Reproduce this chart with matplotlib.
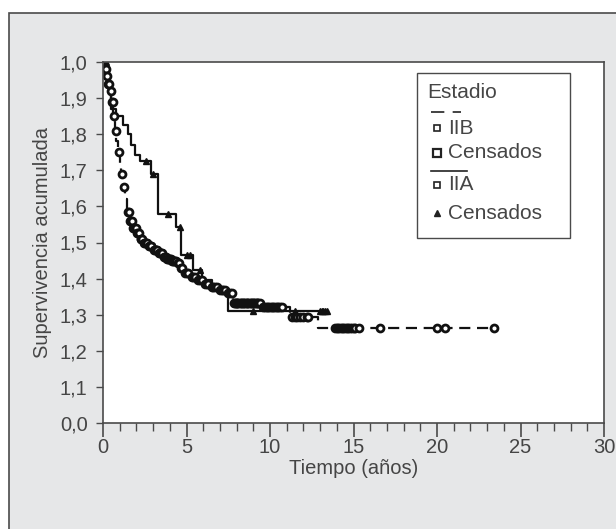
import numpy as np
import matplotlib
matplotlib.use("Agg")
import matplotlib.pyplot as plt
from matplotlib.patches import Rectangle
from matplotlib.lines import Line2D

# IIB (dashed), step times / survival after each event
iib_t = [0, 0.1, 0.2, 0.3, 0.4, 0.5, 0.6, 0.7, 0.8, 0.9, 1.0, 1.1, 1.2, 1.3, 1.44, 1.6,
         1.8, 2.0, 2.2, 2.4, 2.7, 3.0, 3.3, 3.6, 3.8, 4.1, 4.4, 4.6, 4.8, 5.2, 5.6, 6.0,
         6.4, 6.9, 7.4, 7.8, 9.5, 11.2, 12.9, 23.4]
iib_s = [1.0, 0.98, 0.96, 0.94, 0.92, 0.89, 0.85, 0.81, 0.78, 0.75, 0.72, 0.69, 0.655, 0.62,
         0.585, 0.56, 0.54, 0.525, 0.51, 0.50, 0.49, 0.48, 0.47, 0.46, 0.455, 0.45, 0.443,
         0.43, 0.415, 0.405, 0.396, 0.385, 0.377, 0.368, 0.36, 0.332, 0.32, 0.294, 0.263, 0.263]
iib_cens = [0.12, 0.18, 0.25, 0.32, 0.38, 0.45, 0.52, 0.58, 0.65, 0.75, 0.95, 1.15, 1.25,
            1.5, 1.55, 1.62, 1.68, 1.75, 1.82, 1.88, 1.95, 2.05, 2.1, 2.15, 2.25, 2.3, 2.35,
            2.45, 2.5, 2.55, 2.6, 2.65, 2.75, 2.8, 2.85, 2.9, 3.05, 3.1, 3.15, 3.2, 3.25,
            3.35, 3.4, 3.45, 3.5, 3.55, 3.65, 3.7, 3.75, 3.85, 3.9, 3.95, 4.0, 4.05, 4.15,
            4.2, 4.25, 4.3, 4.35, 4.5, 4.55, 4.7, 4.75, 4.9, 5.0, 5.1, 5.3, 5.4, 5.5, 5.7,
            5.8, 5.9, 6.1, 6.2, 6.3, 6.5, 6.6, 6.7, 6.8, 7.0, 7.1, 7.2, 7.3, 7.5, 7.6,
            7.7, 7.85, 7.9, 7.95, 8.0, 8.05, 8.1, 8.2, 8.25, 8.3, 8.4, 8.45, 8.5, 8.6, 8.65,
            8.7, 8.8, 8.85, 8.9, 9.0, 9.05, 9.1, 9.2, 9.25, 9.3, 9.4, 9.6, 9.7, 9.8, 9.9,
            10.0, 10.1, 10.2, 10.3, 10.4, 10.5, 10.6, 10.7, 11.3, 11.5, 11.6, 11.8, 12.0,
            12.2, 12.3, 13.9, 14.0, 14.1, 14.2, 14.3, 14.4, 14.5, 14.6, 14.7, 14.8, 14.9,
            15.0, 15.1, 15.3, 16.6, 20.0, 20.5, 23.4]

# IIA (solid)
iia_t = [0, 0.2, 0.35, 0.5, 0.8, 1.2, 1.5, 1.7, 1.9, 2.2, 2.9, 3.3, 4.4, 4.7, 5.4, 5.9,
         6.5, 7.0, 7.5, 13.5]
iia_s = [1.0, 0.96, 0.92, 0.87, 0.85, 0.825, 0.80, 0.77, 0.742, 0.726, 0.69, 0.58, 0.543,
         0.465, 0.424, 0.396, 0.38, 0.365, 0.31, 0.31]
iia_cens = [0.15, 2.6, 3.0, 3.9, 4.6, 5.05, 5.2, 5.8, 9.0, 11.5, 13.0, 13.1, 13.2, 13.3, 13.4]

ytick_labels = ["0,0", "1,1", "1,2", "1,3", "1,4", "1,5", "1,6", "1,7", "1,8", "1,9", "1,0"]
xtick_labels = ["0", "5", "10", "15", "20", "25", "30"]

plt.rcParams['font.family'] = ['Liberation Sans', 'DejaVu Sans']
txt = '#454545'
W, H = 616, 529
fig = plt.figure(figsize=(W / 100, H / 100), dpi=100)
bg = Rectangle((9 / W, -0.1), 1.2, 1 - 13 / H + 0.1, transform=fig.transFigure,
               facecolor='#e6e7e8', edgecolor='#4a4a4a', linewidth=1.2, zorder=-5)
fig.patches.append(bg)

ax = fig.add_axes([103 / W, 1 - 423 / H, 501 / W, 361 / H])
ax.set_zorder(1)
ax.set_facecolor('white')


def step_at(t, ts, ss):
    i = np.searchsorted(ts, t, side='right') - 1
    return ss[i]


ax.step(iib_t, iib_s, where='post', color='#111', lw=1.6, ls=(0, (5, 3)))
ax.step(iia_t, iia_s, where='post', color='#111', lw=1.6)
ax.plot(iib_cens, [step_at(t, iib_t, iib_s) for t in iib_cens], ls='none', marker='o',
        ms=5, mfc='white', mec='#111', mew=2.0)
ax.plot(iia_cens, [step_at(t, iia_t, iia_s) for t in iia_cens], ls='none', marker='^',
        ms=5, mfc='#111', mec='#111')

ax.set_xlim(0, 30)
ax.set_ylim(0, 1)
ax.set_xticks(np.arange(0, 31, 5))
ax.set_xticklabels(xtick_labels)
ax.set_xticks(np.arange(0, 31, 1), minor=True)
ax.set_yticks(np.linspace(0, 1, 11))
ax.set_yticklabels(ytick_labels)
for s in ax.spines.values():
    s.set_color('#4a4a4a')
    s.set_linewidth(1.2)
ax.tick_params(axis='x', which='major', length=10, width=1.2, color='#4a4a4a',
               labelsize=14.5, labelcolor=txt, pad=1)
ax.tick_params(axis='x', which='minor', length=6, width=1.0, color='#4a4a4a')
ax.tick_params(axis='y', length=5, width=1.0, color='#4a4a4a', labelsize=14.5,
               labelcolor=txt, pad=6)
ax.set_xlabel('Tiempo (años)', fontsize=14.5, color=txt, labelpad=1)
ax.set_ylabel('Supervivencia acumulada', fontsize=14.5, color=txt, labelpad=6)


# legend box drawn by hand
def fx(px):
    return px / W


def fy(py):
    return 1 - py / H


fig.patches.append(Rectangle((fx(417), fy(238)), fx(570) - fx(417), fy(73) - fy(238),
                             transform=fig.transFigure, facecolor='white',
                             edgecolor='#4a4a4a', linewidth=1.0, zorder=5))
lkw = dict(transform=fig.transFigure, fontsize=15, color=txt, va='center', zorder=6)
fig.text(fx(427), fy(93), 'Estadio', **lkw)
fig.lines.append(Line2D([fx(431), fx(461)], [fy(112), fy(112)], transform=fig.transFigure,
                        color='#222', lw=1.2, ls=(0, (8, 5)), zorder=6))
fig.lines.append(Line2D([fx(437)], [fy(128)], transform=fig.transFigure, marker='s', ms=4,
                        mfc='white', mec='#222', mew=1.2, zorder=6))
fig.text(fx(448), fy(128), 'IIB', **lkw)
fig.lines.append(Line2D([fx(437)], [fy(153)], transform=fig.transFigure, marker='s', ms=6,
                        mfc='white', mec='#222', mew=1.6, zorder=6))
fig.text(fx(448), fy(153), 'Censados', **lkw)
fig.lines.append(Line2D([fx(431), fx(467)], [fy(171), fy(171)], transform=fig.transFigure,
                        color='#222', lw=1.2, zorder=6))
fig.lines.append(Line2D([fx(437)], [fy(185)], transform=fig.transFigure, marker='s', ms=4,
                        mfc='white', mec='#222', mew=1.2, zorder=6))
fig.text(fx(448), fy(185), 'IIA', **lkw)
fig.lines.append(Line2D([fx(437)], [fy(213)], transform=fig.transFigure, marker='^', ms=5,
                        mfc='#222', mec='#222', zorder=6))
fig.text(fx(448), fy(213), 'Censados', **lkw)

fig.savefig('out.png', dpi=100, facecolor='white')
